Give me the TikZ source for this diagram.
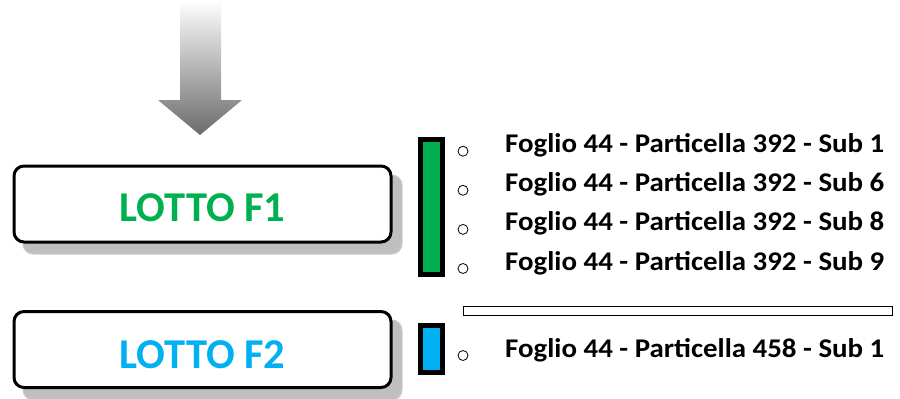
\documentclass[tikz,border=0pt]{standalone}
\usepackage{fontspec}
\usepackage{graphicx}
\setmainfont{Carlito}
\definecolor{lgreen}{HTML}{00B050}
\definecolor{lblue}{HTML}{00B0F0}
\definecolor{shad}{HTML}{BFBFBF}
\tikzset{
  lottobox/.style={draw=black, line width=3pt, rounded corners=10pt, fill=white,
    minimum width=377pt, minimum height=76pt, inner sep=0pt},
  lottotext/.style={anchor=base, inner sep=0pt, font=\bfseries\fontsize{42.5}{42.5}\selectfont},
  shadowbox/.style={fill=shad, draw=shad!80!white, line width=1pt, rounded corners=10pt},
  bar/.style={draw=black, line width=5pt, minimum width=22pt, inner sep=0pt},
  bul/.style={circle, draw=black, line width=0.8pt, minimum size=10pt, inner sep=0pt},
  item/.style={anchor=base west, inner sep=0pt, font=\bfseries\fontsize{27}{27}\selectfont},
}
\begin{document}
\begin{tikzpicture}[x=1pt,y=-1pt]
\useasboundingbox (0,0) rectangle (900,399);
% gradient arrow
\shade[top color=white, bottom color=black!58]
  (180,0) -- (221,0) -- (221,100) -- (242,100) -- (200,135) -- (158,100) -- (180,100) -- cycle;
% shadows
\path[shadowbox] (23,175) rectangle (402,254);
\path[shadowbox] (23,320) rectangle (402,400);
% boxes
\node[lottobox] (f1box) at (202.5,204) {};
\node[lottotext, text=lgreen] (f1) at (202.5,221.7) {LOTTO F1};
\node[lottobox] (f2box) at (202.5,349.5) {};
\node[lottotext, text=lblue] (f2) at (202.5,368) {LOTTO F2};
% bars
\node[bar, fill=lgreen, minimum height=135pt] (gbar) at (431.5,207) {};
\node[bar, fill=lblue, minimum height=47pt] (bbar) at (431.5,349) {};
% separator
\node[draw=black, line width=0.8pt, fill=white, minimum width=429pt, minimum height=9pt, inner sep=0pt] (sep) at (677.5,311) {};
% items
\foreach \y/\t [count=\i] in {152.7/{Foglio 44 - Particella 392 - Sub 1},191.8/{Foglio 44 - Particella 392 - Sub 6},230.9/{Foglio 44 - Particella 392 - Sub 8},270/{Foglio 44 - Particella 392 - Sub 9},357/{Foglio 44 - Particella 458 - Sub 1}}{
  \node[bul] (b\i) at (463,\y-1.5) {};
  \node[item] (t\i) at (505,\y) {\scalebox{1.07}[1]{\t}};
}
\end{tikzpicture}
\end{document}
